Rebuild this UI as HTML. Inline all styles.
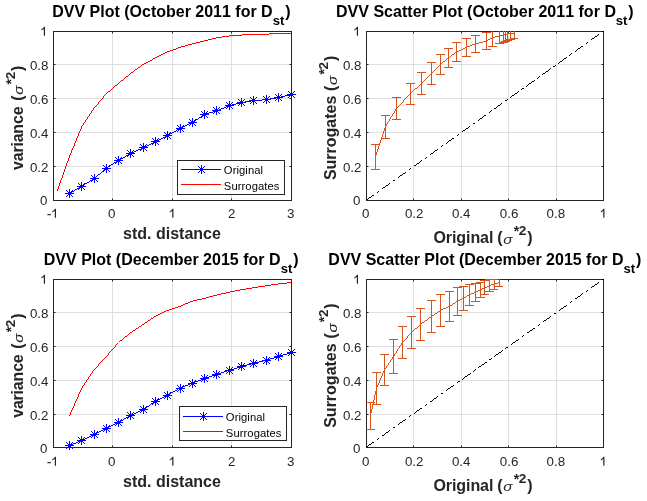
<!DOCTYPE html>
<html><head><meta charset="utf-8"><title>DVV</title>
<style>html,body{margin:0;padding:0;background:#fff}svg{display:block;will-change:transform}text{font-family:"Liberation Sans",sans-serif;fill:#262626;font-kerning:none}.tk{font-size:13.33px}.lb{font-size:16px;font-weight:bold}.lg{font-size:11.25px;fill:#000}.tt{fill:#000}</style></head><body>
<svg width="647" height="501" viewBox="0 0 647 501">
<rect width="647" height="501" fill="#ffffff"/>
<g shape-rendering="crispEdges" stroke="#dfdfdf" stroke-width="1">
<line x1="112.5" y1="31.5" x2="112.5" y2="200.5"/>
<line x1="172.5" y1="31.5" x2="172.5" y2="200.5"/>
<line x1="231.5" y1="31.5" x2="231.5" y2="200.5"/>
<line x1="53.5" y1="64.5" x2="291.5" y2="64.5"/>
<line x1="53.5" y1="98.5" x2="291.5" y2="98.5"/>
<line x1="53.5" y1="132.5" x2="291.5" y2="132.5"/>
<line x1="53.5" y1="166.5" x2="291.5" y2="166.5"/>
</g>
<g shape-rendering="crispEdges" stroke="#dfdfdf" stroke-width="1">
<line x1="413.5" y1="31.5" x2="413.5" y2="200.5"/>
<line x1="461.5" y1="31.5" x2="461.5" y2="200.5"/>
<line x1="508.5" y1="31.5" x2="508.5" y2="200.5"/>
<line x1="556.5" y1="31.5" x2="556.5" y2="200.5"/>
<line x1="366.5" y1="64.5" x2="603.5" y2="64.5"/>
<line x1="366.5" y1="98.5" x2="603.5" y2="98.5"/>
<line x1="366.5" y1="132.5" x2="603.5" y2="132.5"/>
<line x1="366.5" y1="166.5" x2="603.5" y2="166.5"/>
</g>
<g shape-rendering="crispEdges" stroke="#dfdfdf" stroke-width="1">
<line x1="112.5" y1="279.5" x2="112.5" y2="447.5"/>
<line x1="172.5" y1="279.5" x2="172.5" y2="447.5"/>
<line x1="231.5" y1="279.5" x2="231.5" y2="447.5"/>
<line x1="53.5" y1="312.5" x2="291.5" y2="312.5"/>
<line x1="53.5" y1="346.5" x2="291.5" y2="346.5"/>
<line x1="53.5" y1="380.5" x2="291.5" y2="380.5"/>
<line x1="53.5" y1="414.5" x2="291.5" y2="414.5"/>
</g>
<g shape-rendering="crispEdges" stroke="#dfdfdf" stroke-width="1">
<line x1="413.5" y1="279.5" x2="413.5" y2="447.5"/>
<line x1="461.5" y1="279.5" x2="461.5" y2="447.5"/>
<line x1="508.5" y1="279.5" x2="508.5" y2="447.5"/>
<line x1="556.5" y1="279.5" x2="556.5" y2="447.5"/>
<line x1="366.5" y1="312.5" x2="603.5" y2="312.5"/>
<line x1="366.5" y1="346.5" x2="603.5" y2="346.5"/>
<line x1="366.5" y1="380.5" x2="603.5" y2="380.5"/>
<line x1="366.5" y1="414.5" x2="603.5" y2="414.5"/>
</g>
<g stroke="#262626" stroke-width="1" fill="none">
<line x1="112.5" y1="200.5" x2="112.5" y2="198.5"/>
<line x1="112.5" y1="31.5" x2="112.5" y2="33.5"/>
<line x1="172.5" y1="200.5" x2="172.5" y2="198.5"/>
<line x1="172.5" y1="31.5" x2="172.5" y2="33.5"/>
<line x1="231.5" y1="200.5" x2="231.5" y2="198.5"/>
<line x1="231.5" y1="31.5" x2="231.5" y2="33.5"/>
<line x1="53.5" y1="64.5" x2="55.5" y2="64.5"/>
<line x1="291.5" y1="64.5" x2="289.5" y2="64.5"/>
<line x1="53.5" y1="98.5" x2="55.5" y2="98.5"/>
<line x1="291.5" y1="98.5" x2="289.5" y2="98.5"/>
<line x1="53.5" y1="132.5" x2="55.5" y2="132.5"/>
<line x1="291.5" y1="132.5" x2="289.5" y2="132.5"/>
<line x1="53.5" y1="166.5" x2="55.5" y2="166.5"/>
<line x1="291.5" y1="166.5" x2="289.5" y2="166.5"/>
<rect x="53.5" y="31.5" width="238.0" height="169.0" shape-rendering="crispEdges"/>
</g>
<g stroke="#262626" stroke-width="1" fill="none">
<line x1="413.5" y1="200.5" x2="413.5" y2="198.5"/>
<line x1="413.5" y1="31.5" x2="413.5" y2="33.5"/>
<line x1="461.5" y1="200.5" x2="461.5" y2="198.5"/>
<line x1="461.5" y1="31.5" x2="461.5" y2="33.5"/>
<line x1="508.5" y1="200.5" x2="508.5" y2="198.5"/>
<line x1="508.5" y1="31.5" x2="508.5" y2="33.5"/>
<line x1="556.5" y1="200.5" x2="556.5" y2="198.5"/>
<line x1="556.5" y1="31.5" x2="556.5" y2="33.5"/>
<line x1="366.5" y1="64.5" x2="368.5" y2="64.5"/>
<line x1="603.5" y1="64.5" x2="601.5" y2="64.5"/>
<line x1="366.5" y1="98.5" x2="368.5" y2="98.5"/>
<line x1="603.5" y1="98.5" x2="601.5" y2="98.5"/>
<line x1="366.5" y1="132.5" x2="368.5" y2="132.5"/>
<line x1="603.5" y1="132.5" x2="601.5" y2="132.5"/>
<line x1="366.5" y1="166.5" x2="368.5" y2="166.5"/>
<line x1="603.5" y1="166.5" x2="601.5" y2="166.5"/>
<rect x="366.5" y="31.5" width="237.0" height="169.0" shape-rendering="crispEdges"/>
</g>
<g stroke="#262626" stroke-width="1" fill="none">
<line x1="112.5" y1="447.5" x2="112.5" y2="445.5"/>
<line x1="112.5" y1="279.5" x2="112.5" y2="281.5"/>
<line x1="172.5" y1="447.5" x2="172.5" y2="445.5"/>
<line x1="172.5" y1="279.5" x2="172.5" y2="281.5"/>
<line x1="231.5" y1="447.5" x2="231.5" y2="445.5"/>
<line x1="231.5" y1="279.5" x2="231.5" y2="281.5"/>
<line x1="53.5" y1="312.5" x2="55.5" y2="312.5"/>
<line x1="291.5" y1="312.5" x2="289.5" y2="312.5"/>
<line x1="53.5" y1="346.5" x2="55.5" y2="346.5"/>
<line x1="291.5" y1="346.5" x2="289.5" y2="346.5"/>
<line x1="53.5" y1="380.5" x2="55.5" y2="380.5"/>
<line x1="291.5" y1="380.5" x2="289.5" y2="380.5"/>
<line x1="53.5" y1="414.5" x2="55.5" y2="414.5"/>
<line x1="291.5" y1="414.5" x2="289.5" y2="414.5"/>
<rect x="53.5" y="279.5" width="238.0" height="168.0" shape-rendering="crispEdges"/>
</g>
<g stroke="#262626" stroke-width="1" fill="none">
<line x1="413.5" y1="447.5" x2="413.5" y2="445.5"/>
<line x1="413.5" y1="279.5" x2="413.5" y2="281.5"/>
<line x1="461.5" y1="447.5" x2="461.5" y2="445.5"/>
<line x1="461.5" y1="279.5" x2="461.5" y2="281.5"/>
<line x1="508.5" y1="447.5" x2="508.5" y2="445.5"/>
<line x1="508.5" y1="279.5" x2="508.5" y2="281.5"/>
<line x1="556.5" y1="447.5" x2="556.5" y2="445.5"/>
<line x1="556.5" y1="279.5" x2="556.5" y2="281.5"/>
<line x1="366.5" y1="312.5" x2="368.5" y2="312.5"/>
<line x1="603.5" y1="312.5" x2="601.5" y2="312.5"/>
<line x1="366.5" y1="346.5" x2="368.5" y2="346.5"/>
<line x1="603.5" y1="346.5" x2="601.5" y2="346.5"/>
<line x1="366.5" y1="380.5" x2="368.5" y2="380.5"/>
<line x1="603.5" y1="380.5" x2="601.5" y2="380.5"/>
<line x1="366.5" y1="414.5" x2="368.5" y2="414.5"/>
<line x1="603.5" y1="414.5" x2="601.5" y2="414.5"/>
<rect x="366.5" y="279.5" width="237.0" height="168.0" shape-rendering="crispEdges"/>
</g>
<path d="M269 33h22v1h-22zM242 34h27v1h-27zM229 35h13v1h-13zM222 36h7v1h-7zM216 37h6v1h-6zM212 38h4v1h-4zM208 39h4v1h-4zM204 40h4v1h-4zM200 41h4v1h-4zM196 42h4v1h-4zM192 43h4v1h-4zM188 44h4v1h-4zM185 45h3v1h-3zM181 46h4v1h-4zM178 47h3v1h-3zM176 48h2v1h-2zM173 49h3v1h-3zM170 50h3v1h-3zM167 51h3v1h-3zM165 52h2v1h-2zM163 53h2v1h-2zM161 54h2v1h-2zM159 55h2v1h-2zM157 56h2v1h-2zM155 57h2v1h-2zM153 58h2v1h-2zM152 59h1v1h-1zM150 60h2v1h-2zM148 61h2v1h-2zM146 62h2v1h-2zM144 63h2v1h-2zM142 64h2v1h-2zM141 65h1v1h-1zM140 66h1v1h-1zM138 67h2v1h-2zM137 68h1v1h-1zM135 69h2v1h-2zM134 70h1v1h-1zM133 71h1v1h-1zM131 72h2v1h-2zM130 73h1v1h-1zM129 74h1v1h-1zM128 75h1v1h-1zM126 76h2v1h-2zM125 77h1v1h-1zM124 78h1v1h-1zM123 79h1v1h-1zM121 80h2v1h-2zM120 81h1v1h-1zM119 82h1v1h-1zM118 83h1v1h-1zM117 84h1v1h-1zM115 85h2v1h-2zM114 86h1v1h-1zM113 87h1v1h-1zM112 88h1v1h-1zM111 89h1v1h-1zM110 90h1v1h-1zM108 91h2v1h-2zM107 92h1v1h-1zM106 93h1v1h-1zM105 94h1v1h-1zM104 95h1v1h-1zM103 96h1v1h-1zM103 97h1v1h-1zM102 98h1v1h-1zM101 99h1v1h-1zM100 100h1v1h-1zM99 101h1v1h-1zM98 102h1v1h-1zM98 103h1v1h-1zM97 104h1v1h-1zM96 105h1v1h-1zM95 106h1v1h-1zM94 107h1v1h-1zM93 108h1v1h-1zM93 109h1v1h-1zM92 110h1v1h-1zM91 111h1v1h-1zM91 112h1v1h-1zM90 113h1v1h-1zM89 114h1v1h-1zM89 115h1v1h-1zM88 116h1v1h-1zM87 117h1v1h-1zM87 118h1v1h-1zM86 119h1v1h-1zM85 120h1v1h-1zM85 121h1v1h-1zM84 122h1v1h-1zM83 123h1v1h-1zM83 124h1v1h-1zM82 125h1v1h-1zM81 126h1v1h-1zM81 127h1v1h-1zM81 128h1v1h-1zM80 129h1v1h-1zM80 130h1v1h-1zM79 131h1v1h-1zM79 132h1v1h-1zM78 133h1v1h-1zM78 134h1v1h-1zM78 135h1v1h-1zM77 136h1v1h-1zM77 137h1v1h-1zM76 138h1v1h-1zM76 139h1v1h-1zM76 140h1v1h-1zM75 141h1v1h-1zM75 142h1v1h-1zM74 143h1v1h-1zM74 144h1v1h-1zM74 145h1v1h-1zM73 146h1v1h-1zM73 147h1v1h-1zM72 148h1v1h-1zM72 149h1v1h-1zM71 150h1v1h-1zM71 151h1v1h-1zM71 152h1v1h-1zM70 153h1v1h-1zM70 154h1v1h-1zM69 155h1v1h-1zM69 156h1v1h-1zM69 157h1v1h-1zM68 158h1v1h-1zM68 159h1v1h-1zM68 160h1v1h-1zM67 161h1v1h-1zM67 162h1v1h-1zM66 163h1v1h-1zM66 164h1v1h-1zM66 165h1v1h-1zM65 166h1v1h-1zM65 167h1v1h-1zM65 168h1v1h-1zM64 169h1v1h-1zM64 170h1v1h-1zM64 171h1v1h-1zM63 172h1v1h-1zM63 173h1v1h-1zM63 174h1v1h-1zM62 175h1v1h-1zM62 176h1v1h-1zM62 177h1v1h-1zM61 178h1v1h-1zM61 179h1v1h-1zM60 180h1v1h-1zM60 181h1v1h-1zM60 182h1v1h-1zM59 183h1v1h-1zM59 184h1v1h-1zM59 185h1v1h-1zM58 186h1v1h-1zM58 187h1v1h-1zM58 188h1v1h-1zM57 189h1v1h-1zM57 190h1v1h-1z" fill="#ff0000" shape-rendering="crispEdges"/>
<path d="M290 94h1v1h-1zM285 95h5v1h-5zM281 96h4v1h-4zM276 97h5v1h-5zM270 98h6v1h-6zM262 99h8v1h-8zM251 100h11v1h-11zM245 101h6v1h-6zM240 102h5v1h-5zM236 103h4v1h-4zM232 104h4v1h-4zM228 105h4v1h-4zM226 106h2v1h-2zM224 107h2v1h-2zM221 108h3v1h-3zM219 109h2v1h-2zM216 110h3v1h-3zM213 111h3v1h-3zM209 112h4v1h-4zM206 113h3v1h-3zM204 114h2v1h-2zM202 115h2v1h-2zM201 116h1v1h-1zM199 117h2v1h-2zM198 118h1v1h-1zM196 119h2v1h-2zM195 120h1v1h-1zM193 121h2v1h-2zM192 122h1v1h-1zM189 123h3v1h-3zM187 124h2v1h-2zM185 125h2v1h-2zM183 126h2v1h-2zM181 127h2v1h-2zM179 128h2v1h-2zM177 129h2v1h-2zM176 130h1v1h-1zM174 131h2v1h-2zM172 132h2v1h-2zM170 133h2v1h-2zM169 134h1v1h-1zM167 135h2v1h-2zM165 136h2v1h-2zM163 137h2v1h-2zM161 138h2v1h-2zM159 139h2v1h-2zM157 140h2v1h-2zM155 141h2v1h-2zM153 142h2v1h-2zM151 143h2v1h-2zM149 144h2v1h-2zM147 145h2v1h-2zM145 146h2v1h-2zM143 147h2v1h-2zM141 148h2v1h-2zM138 149h3v1h-3zM136 150h2v1h-2zM134 151h2v1h-2zM132 152h2v1h-2zM130 153h2v1h-2zM128 154h2v1h-2zM126 155h2v1h-2zM125 156h1v1h-1zM123 157h2v1h-2zM121 158h2v1h-2zM119 159h2v1h-2zM117 160h2v1h-2zM116 161h1v1h-1zM114 162h2v1h-2zM113 163h1v1h-1zM111 164h2v1h-2zM110 165h1v1h-1zM108 166h2v1h-2zM107 167h1v1h-1zM106 168h1v1h-1zM104 169h2v1h-2zM103 170h1v1h-1zM102 171h1v1h-1zM101 172h1v1h-1zM100 173h1v1h-1zM98 174h2v1h-2zM97 175h1v1h-1zM96 176h1v1h-1zM95 177h1v1h-1zM94 178h1v1h-1zM92 179h2v1h-2zM90 180h2v1h-2zM89 181h1v1h-1zM87 182h2v1h-2zM85 183h2v1h-2zM84 184h1v1h-1zM82 185h2v1h-2zM80 186h2v1h-2zM79 187h1v1h-1zM77 188h2v1h-2zM75 189h2v1h-2zM74 190h1v1h-1zM72 191h2v1h-2zM70 192h2v1h-2zM69 193h1v1h-1z" fill="#0000ff" shape-rendering="crispEdges"/>
<path d="M287 282h4v1h-4zM278 283h9v1h-9zM271 284h7v1h-7zM265 285h6v1h-6zM258 286h7v1h-7zM252 287h6v1h-6zM246 288h6v1h-6zM240 289h6v1h-6zM235 290h5v1h-5zM230 291h5v1h-5zM226 292h4v1h-4zM221 293h5v1h-5zM217 294h4v1h-4zM213 295h4v1h-4zM209 296h4v1h-4zM206 297h3v1h-3zM202 298h4v1h-4zM197 299h5v1h-5zM193 300h4v1h-4zM190 301h3v1h-3zM188 302h2v1h-2zM185 303h3v1h-3zM183 304h2v1h-2zM181 305h2v1h-2zM178 306h3v1h-3zM175 307h3v1h-3zM172 308h3v1h-3zM169 309h3v1h-3zM166 310h3v1h-3zM164 311h2v1h-2zM162 312h2v1h-2zM160 313h2v1h-2zM158 314h2v1h-2zM156 315h2v1h-2zM154 316h2v1h-2zM153 317h1v1h-1zM151 318h2v1h-2zM150 319h1v1h-1zM148 320h2v1h-2zM147 321h1v1h-1zM145 322h2v1h-2zM144 323h1v1h-1zM142 324h2v1h-2zM141 325h1v1h-1zM139 326h2v1h-2zM138 327h1v1h-1zM136 328h2v1h-2zM135 329h1v1h-1zM133 330h2v1h-2zM132 331h1v1h-1zM130 332h2v1h-2zM129 333h1v1h-1zM128 334h1v1h-1zM127 335h1v1h-1zM125 336h2v1h-2zM124 337h1v1h-1zM123 338h1v1h-1zM122 339h1v1h-1zM120 340h2v1h-2zM119 341h1v1h-1zM117 343h1v1h-1zM116 344h1v1h-1zM115 345h1v1h-1zM115 346h1v1h-1zM114 347h1v1h-1zM113 348h1v1h-1zM112 349h1v1h-1zM111 350h1v1h-1zM110 351h1v1h-1zM109 352h1v1h-1zM108 353h1v1h-1zM108 354h1v1h-1zM107 355h1v1h-1zM106 356h1v1h-1zM105 357h1v1h-1zM104 358h1v1h-1zM103 359h1v1h-1zM102 360h1v1h-1zM101 361h1v1h-1zM100 362h1v1h-1zM99 363h1v1h-1zM98 364h1v1h-1zM98 365h1v1h-1zM97 366h1v1h-1zM96 367h1v1h-1zM95 368h1v1h-1zM94 369h1v1h-1zM93 370h1v1h-1zM92 371h1v1h-1zM92 372h1v1h-1zM91 373h1v1h-1zM90 374h1v1h-1zM90 375h1v1h-1zM89 376h1v1h-1zM88 377h1v1h-1zM88 378h1v1h-1zM87 379h1v1h-1zM86 380h1v1h-1zM86 381h1v1h-1zM85 382h1v1h-1zM84 383h1v1h-1zM84 384h1v1h-1zM83 385h1v1h-1zM82 386h1v1h-1zM82 387h1v1h-1zM81 388h1v1h-1zM81 389h1v1h-1zM80 390h1v1h-1zM80 391h1v1h-1zM79 392h1v1h-1zM79 393h1v1h-1zM78 394h1v1h-1zM78 395h1v1h-1zM78 396h1v1h-1zM77 397h1v1h-1zM77 398h1v1h-1zM76 399h1v1h-1zM76 400h1v1h-1zM75 401h1v1h-1zM75 402h1v1h-1zM74 403h1v1h-1zM74 404h1v1h-1zM74 405h1v1h-1zM73 406h1v1h-1zM73 407h1v1h-1zM72 408h1v1h-1zM72 409h1v1h-1zM71 410h1v1h-1zM71 411h1v1h-1zM70 412h1v1h-1zM70 413h1v1h-1zM70 414h1v1h-1zM69 415h1v1h-1z" fill="#ff0000" shape-rendering="crispEdges"/>
<path d="M290 352h1v1h-1zM287 353h3v1h-3zM283 354h4v1h-4zM280 355h3v1h-3zM277 356h3v1h-3zM274 357h3v1h-3zM270 358h4v1h-4zM267 359h3v1h-3zM263 360h4v1h-4zM259 361h4v1h-4zM255 362h4v1h-4zM251 363h4v1h-4zM247 364h4v1h-4zM243 365h4v1h-4zM240 366h3v1h-3zM237 367h3v1h-3zM234 368h3v1h-3zM230 369h4v1h-4zM227 370h3v1h-3zM224 371h3v1h-3zM221 372h3v1h-3zM218 373h3v1h-3zM215 374h3v1h-3zM212 375h3v1h-3zM209 376h3v1h-3zM206 377h3v1h-3zM203 378h3v1h-3zM201 379h2v1h-2zM198 380h3v1h-3zM195 381h3v1h-3zM193 382h2v1h-2zM190 383h3v1h-3zM188 384h2v1h-2zM185 385h3v1h-3zM183 386h2v1h-2zM180 387h3v1h-3zM178 388h2v1h-2zM177 389h1v1h-1zM175 390h2v1h-2zM173 391h2v1h-2zM171 392h2v1h-2zM170 393h1v1h-1zM168 394h2v1h-2zM166 395h2v1h-2zM164 396h2v1h-2zM162 397h2v1h-2zM160 398h2v1h-2zM158 399h2v1h-2zM156 400h2v1h-2zM154 401h2v1h-2zM153 402h1v1h-1zM151 403h2v1h-2zM150 404h1v1h-1zM149 405h1v1h-1zM147 406h2v1h-2zM146 407h1v1h-1zM144 408h2v1h-2zM143 409h1v1h-1zM140 410h3v1h-3zM138 411h2v1h-2zM136 412h2v1h-2zM134 413h2v1h-2zM132 414h2v1h-2zM130 415h2v1h-2zM128 416h2v1h-2zM126 417h2v1h-2zM124 418h2v1h-2zM123 419h1v1h-1zM121 420h2v1h-2zM119 421h2v1h-2zM117 422h2v1h-2zM115 423h2v1h-2zM113 424h2v1h-2zM111 425h2v1h-2zM109 426h2v1h-2zM107 427h2v1h-2zM105 428h2v1h-2zM103 429h2v1h-2zM101 430h2v1h-2zM99 431h2v1h-2zM97 432h2v1h-2zM95 433h2v1h-2zM93 434h2v1h-2zM91 435h2v1h-2zM89 436h2v1h-2zM87 437h2v1h-2zM85 438h2v1h-2zM83 439h2v1h-2zM81 440h2v1h-2zM78 441h3v1h-3zM76 442h2v1h-2zM73 443h3v1h-3zM70 444h3v1h-3zM69 445h1v1h-1z" fill="#0000ff" shape-rendering="crispEdges"/>
<path d="M602 31h2v1h-2zM598 34h1v1h-1zM597 35h1v1h-1zM595 36h2v1h-2zM594 37h1v1h-1zM592 38h2v1h-2zM591 39h1v1h-1zM587 42h1v1h-1zM586 43h1v1h-1zM581 46h2v1h-2zM580 47h1v1h-1zM578 48h2v1h-2zM577 49h1v1h-1zM576 50h1v1h-1zM575 51h1v1h-1zM571 53h1v1h-1zM570 54h1v1h-1zM569 55h1v1h-1zM566 57h1v1h-1zM564 58h2v1h-2zM563 59h1v1h-1zM562 60h1v1h-1zM560 61h2v1h-2zM559 62h1v1h-1zM558 63h1v1h-1zM555 65h1v1h-1zM553 66h2v1h-2zM550 68h1v1h-1zM549 69h1v1h-1zM548 70h1v1h-1zM546 71h2v1h-2zM545 72h1v1h-1zM543 73h2v1h-2zM542 74h1v1h-1zM539 76h1v1h-1zM538 77h1v1h-1zM537 78h1v1h-1zM534 80h1v1h-1zM532 81h2v1h-2zM531 82h1v1h-1zM529 83h2v1h-2zM528 84h1v1h-1zM527 85h1v1h-1zM526 86h1v1h-1zM522 88h2v1h-2zM521 89h1v1h-1zM518 91h1v1h-1zM517 92h1v1h-1zM515 93h2v1h-2zM514 94h1v1h-1zM512 95h2v1h-2zM511 96h1v1h-1zM510 97h1v1h-1zM507 99h1v1h-1zM505 100h2v1h-2zM501 103h1v1h-1zM500 104h1v1h-1zM498 105h2v1h-2zM497 106h1v1h-1zM496 107h1v1h-1zM494 108h2v1h-2zM491 110h1v1h-1zM490 111h1v1h-1zM489 112h1v1h-1zM484 115h2v1h-2zM483 116h1v1h-1zM482 117h1v1h-1zM480 118h2v1h-2zM479 119h1v1h-1zM478 120h1v1h-1zM473 123h2v1h-2zM469 126h1v1h-1zM468 127h1v1h-1zM466 128h2v1h-2zM465 129h1v1h-1zM463 130h2v1h-2zM462 131h1v1h-1zM458 134h1v1h-1zM457 135h1v1h-1zM452 138h2v1h-2zM451 139h1v1h-1zM449 140h2v1h-2zM448 141h1v1h-1zM447 142h1v1h-1zM446 143h1v1h-1zM442 145h1v1h-1zM441 146h1v1h-1zM437 149h1v1h-1zM435 150h2v1h-2zM434 151h1v1h-1zM433 152h1v1h-1zM431 153h2v1h-2zM430 154h1v1h-1zM426 157h1v1h-1zM425 158h1v1h-1zM421 160h1v1h-1zM420 161h1v1h-1zM419 162h1v1h-1zM417 163h2v1h-2zM416 164h1v1h-1zM414 165h2v1h-2zM410 168h1v1h-1zM409 169h1v1h-1zM405 172h1v1h-1zM403 173h2v1h-2zM402 174h1v1h-1zM400 175h2v1h-2zM399 176h1v1h-1zM398 177h1v1h-1zM393 180h2v1h-2zM389 183h1v1h-1zM388 184h1v1h-1zM386 185h2v1h-2zM385 186h1v1h-1zM383 187h2v1h-2zM382 188h1v1h-1zM378 191h1v1h-1zM377 192h1v1h-1zM372 195h2v1h-2zM371 196h1v1h-1zM369 197h2v1h-2zM368 198h1v1h-1zM367 199h1v1h-1z" fill="#000" shape-rendering="crispEdges"/>
<path d="M492 31h1v1h-1zM499 31h1v1h-1zM503 31h1v1h-1zM505 31h1v1h-1zM507 31h1v1h-1zM510 31h1v1h-1zM514 31h1v1h-1zM482 32h9v1h-9zM492 32h1v1h-1zM499 32h1v1h-1zM503 32h1v1h-1zM505 32h1v1h-1zM507 32h1v1h-1zM510 32h1v1h-1zM514 32h1v1h-1zM486 33h1v1h-1zM492 33h1v1h-1zM499 33h1v1h-1zM503 33h1v1h-1zM505 33h1v1h-1zM507 33h8v1h-8zM486 34h1v1h-1zM492 34h1v1h-1zM499 34h1v1h-1zM503 34h5v1h-5zM510 34h1v1h-1zM514 34h1v1h-1zM471 35h9v1h-9zM486 35h1v1h-1zM492 35h1v1h-1zM499 35h5v1h-5zM505 35h1v1h-1zM507 35h1v1h-1zM510 35h1v1h-1zM514 35h1v1h-1zM475 36h1v1h-1zM486 36h1v1h-1zM492 36h1v1h-1zM495 36h5v1h-5zM503 36h1v1h-1zM505 36h1v1h-1zM507 36h1v1h-1zM510 36h1v1h-1zM514 36h1v1h-1zM475 37h1v1h-1zM486 37h1v1h-1zM492 37h3v1h-3zM499 37h1v1h-1zM503 37h1v1h-1zM505 37h1v1h-1zM507 37h1v1h-1zM510 37h1v1h-1zM514 37h1v1h-1zM462 38h9v1h-9zM475 38h1v1h-1zM486 38h1v1h-1zM490 38h3v1h-3zM499 38h1v1h-1zM503 38h1v1h-1zM505 38h1v1h-1zM507 38h1v1h-1zM510 38h8v1h-8zM466 39h1v1h-1zM475 39h1v1h-1zM486 39h1v1h-1zM488 39h2v1h-2zM492 39h1v1h-1zM499 39h1v1h-1zM503 39h1v1h-1zM505 39h10v1h-10zM466 40h1v1h-1zM475 40h1v1h-1zM486 40h2v1h-2zM492 40h1v1h-1zM499 40h1v1h-1zM503 40h9v1h-9zM466 41h1v1h-1zM475 41h1v1h-1zM483 41h4v1h-4zM492 41h1v1h-1zM499 41h1v1h-1zM501 41h9v1h-9zM452 42h9v1h-9zM466 42h1v1h-1zM475 42h1v1h-1zM479 42h4v1h-4zM486 42h1v1h-1zM492 42h1v1h-1zM499 42h9v1h-9zM456 43h1v1h-1zM466 43h1v1h-1zM475 43h4v1h-4zM486 43h1v1h-1zM492 43h1v1h-1zM495 43h9v1h-9zM456 44h1v1h-1zM466 44h1v1h-1zM472 44h4v1h-4zM486 44h1v1h-1zM492 44h1v1h-1zM456 45h1v1h-1zM466 45h1v1h-1zM470 45h2v1h-2zM475 45h1v1h-1zM486 45h1v1h-1zM492 45h1v1h-1zM456 46h1v1h-1zM466 46h4v1h-4zM475 46h1v1h-1zM486 46h1v1h-1zM488 46h9v1h-9zM456 47h1v1h-1zM465 47h2v1h-2zM475 47h1v1h-1zM486 47h1v1h-1zM444 48h9v1h-9zM456 48h1v1h-1zM463 48h2v1h-2zM466 48h1v1h-1zM475 48h1v1h-1zM486 48h1v1h-1zM448 49h1v1h-1zM456 49h1v1h-1zM461 49h2v1h-2zM466 49h1v1h-1zM475 49h1v1h-1zM482 49h9v1h-9zM448 50h1v1h-1zM456 50h1v1h-1zM459 50h2v1h-2zM466 50h1v1h-1zM475 50h1v1h-1zM448 51h1v1h-1zM456 51h3v1h-3zM466 51h1v1h-1zM475 51h1v1h-1zM448 52h1v1h-1zM455 52h2v1h-2zM466 52h1v1h-1zM471 52h9v1h-9zM448 53h1v1h-1zM454 53h1v1h-1zM456 53h1v1h-1zM466 53h1v1h-1zM436 54h9v1h-9zM448 54h1v1h-1zM452 54h2v1h-2zM456 54h1v1h-1zM466 54h1v1h-1zM440 55h1v1h-1zM448 55h1v1h-1zM451 55h1v1h-1zM456 55h1v1h-1zM466 55h1v1h-1zM440 56h1v1h-1zM448 56h1v1h-1zM450 56h1v1h-1zM456 56h1v1h-1zM462 56h9v1h-9zM440 57h1v1h-1zM448 57h2v1h-2zM456 57h1v1h-1zM440 58h1v1h-1zM447 58h2v1h-2zM456 58h1v1h-1zM440 59h1v1h-1zM446 59h1v1h-1zM448 59h1v1h-1zM456 59h1v1h-1zM440 60h1v1h-1zM445 60h1v1h-1zM448 60h1v1h-1zM456 60h1v1h-1zM440 61h1v1h-1zM443 61h2v1h-2zM448 61h1v1h-1zM452 61h9v1h-9zM427 62h9v1h-9zM440 62h1v1h-1zM442 62h1v1h-1zM448 62h1v1h-1zM431 63h1v1h-1zM440 63h2v1h-2zM448 63h1v1h-1zM431 64h1v1h-1zM440 64h1v1h-1zM448 64h1v1h-1zM431 65h1v1h-1zM439 65h2v1h-2zM448 65h1v1h-1zM431 66h1v1h-1zM438 66h1v1h-1zM440 66h1v1h-1zM448 66h1v1h-1zM431 67h1v1h-1zM437 67h1v1h-1zM440 67h1v1h-1zM444 67h9v1h-9zM431 68h1v1h-1zM436 68h1v1h-1zM440 68h1v1h-1zM431 69h1v1h-1zM435 69h1v1h-1zM440 69h1v1h-1zM431 70h1v1h-1zM434 70h1v1h-1zM440 70h1v1h-1zM431 71h1v1h-1zM433 71h1v1h-1zM440 71h1v1h-1zM417 72h9v1h-9zM431 72h2v1h-2zM440 72h1v1h-1zM421 73h1v1h-1zM431 73h1v1h-1zM440 73h1v1h-1zM421 74h1v1h-1zM430 74h2v1h-2zM436 74h9v1h-9zM421 75h1v1h-1zM429 75h1v1h-1zM431 75h1v1h-1zM421 76h1v1h-1zM428 76h1v1h-1zM431 76h1v1h-1zM421 77h1v1h-1zM427 77h1v1h-1zM431 77h1v1h-1zM421 78h1v1h-1zM426 78h1v1h-1zM431 78h1v1h-1zM421 79h1v1h-1zM425 79h1v1h-1zM431 79h1v1h-1zM421 80h1v1h-1zM424 80h1v1h-1zM431 80h1v1h-1zM421 81h1v1h-1zM423 81h1v1h-1zM431 81h1v1h-1zM421 82h2v1h-2zM431 82h1v1h-1zM406 83h9v1h-9zM421 83h1v1h-1zM431 83h1v1h-1zM410 84h1v1h-1zM420 84h2v1h-2zM427 84h9v1h-9zM410 85h1v1h-1zM419 85h1v1h-1zM421 85h1v1h-1zM410 86h1v1h-1zM418 86h1v1h-1zM421 86h1v1h-1zM410 87h1v1h-1zM417 87h1v1h-1zM421 87h1v1h-1zM410 88h1v1h-1zM415 88h2v1h-2zM421 88h1v1h-1zM410 89h1v1h-1zM414 89h1v1h-1zM421 89h1v1h-1zM410 90h1v1h-1zM413 90h1v1h-1zM421 90h1v1h-1zM410 91h1v1h-1zM412 91h1v1h-1zM421 91h1v1h-1zM410 92h2v1h-2zM421 92h1v1h-1zM410 93h1v1h-1zM421 93h1v1h-1zM409 94h2v1h-2zM417 94h9v1h-9zM408 95h1v1h-1zM410 95h1v1h-1zM407 96h1v1h-1zM410 96h1v1h-1zM392 97h9v1h-9zM406 97h1v1h-1zM410 97h1v1h-1zM396 98h1v1h-1zM405 98h1v1h-1zM410 98h1v1h-1zM396 99h1v1h-1zM404 99h1v1h-1zM410 99h1v1h-1zM396 100h1v1h-1zM403 100h1v1h-1zM410 100h1v1h-1zM396 101h1v1h-1zM403 101h1v1h-1zM410 101h1v1h-1zM396 102h1v1h-1zM402 102h1v1h-1zM410 102h1v1h-1zM396 103h1v1h-1zM401 103h1v1h-1zM410 103h1v1h-1zM396 104h1v1h-1zM400 104h1v1h-1zM406 104h9v1h-9zM396 105h1v1h-1zM399 105h1v1h-1zM396 106h1v1h-1zM398 106h1v1h-1zM396 107h2v1h-2zM396 108h1v1h-1zM395 109h2v1h-2zM395 110h2v1h-2zM394 111h1v1h-1zM396 111h1v1h-1zM394 112h1v1h-1zM396 112h1v1h-1zM393 113h1v1h-1zM396 113h1v1h-1zM392 114h1v1h-1zM396 114h1v1h-1zM381 115h9v1h-9zM392 115h1v1h-1zM396 115h1v1h-1zM385 116h1v1h-1zM391 116h1v1h-1zM396 116h1v1h-1zM385 117h1v1h-1zM390 117h1v1h-1zM396 117h1v1h-1zM385 118h1v1h-1zM390 118h1v1h-1zM396 118h1v1h-1zM385 119h1v1h-1zM389 119h1v1h-1zM392 119h9v1h-9zM385 120h1v1h-1zM389 120h1v1h-1zM385 121h1v1h-1zM388 121h1v1h-1zM385 122h1v1h-1zM387 122h1v1h-1zM385 123h1v1h-1zM387 123h1v1h-1zM385 124h2v1h-2zM385 125h2v1h-2zM385 126h1v1h-1zM385 127h1v1h-1zM384 128h2v1h-2zM384 129h2v1h-2zM384 130h2v1h-2zM383 131h1v1h-1zM385 131h1v1h-1zM383 132h1v1h-1zM385 132h1v1h-1zM383 133h1v1h-1zM385 133h1v1h-1zM382 134h1v1h-1zM385 134h1v1h-1zM382 135h1v1h-1zM385 135h1v1h-1zM382 136h1v1h-1zM385 136h1v1h-1zM381 137h1v1h-1zM385 137h1v1h-1zM381 138h9v1h-9zM381 139h1v1h-1zM380 140h1v1h-1zM380 141h1v1h-1zM380 142h1v1h-1zM379 143h1v1h-1zM371 144h9v1h-9zM375 145h1v1h-1zM379 145h1v1h-1zM375 146h1v1h-1zM378 146h1v1h-1zM375 147h1v1h-1zM378 147h1v1h-1zM375 148h1v1h-1zM378 148h1v1h-1zM375 149h1v1h-1zM377 149h1v1h-1zM375 150h1v1h-1zM377 150h1v1h-1zM375 151h1v1h-1zM377 151h1v1h-1zM375 152h2v1h-2zM375 153h2v1h-2zM375 154h2v1h-2zM375 155h1v1h-1zM375 156h1v1h-1zM375 157h1v1h-1zM375 158h1v1h-1zM375 159h1v1h-1zM375 160h1v1h-1zM375 161h1v1h-1zM375 162h1v1h-1zM375 163h1v1h-1zM375 164h1v1h-1zM375 165h1v1h-1zM375 166h1v1h-1zM375 167h1v1h-1zM375 168h1v1h-1zM371 169h9v1h-9z" fill="#d95319" shape-rendering="crispEdges"/>
<path d="M602 279h2v1h-2zM598 282h1v1h-1zM597 283h1v1h-1zM595 284h2v1h-2zM594 285h1v1h-1zM592 286h2v1h-2zM591 287h1v1h-1zM587 290h1v1h-1zM586 291h1v1h-1zM582 293h1v1h-1zM581 294h1v1h-1zM580 295h1v1h-1zM578 296h2v1h-2zM577 297h1v1h-1zM575 298h2v1h-2zM571 301h1v1h-1zM570 302h1v1h-1zM566 305h1v1h-1zM564 306h2v1h-2zM563 307h1v1h-1zM561 308h2v1h-2zM560 309h1v1h-1zM559 310h1v1h-1zM554 313h2v1h-2zM550 316h1v1h-1zM549 317h1v1h-1zM547 318h2v1h-2zM546 319h1v1h-1zM544 320h2v1h-2zM543 321h1v1h-1zM539 324h1v1h-1zM538 325h1v1h-1zM533 328h2v1h-2zM532 329h1v1h-1zM530 330h2v1h-2zM529 331h1v1h-1zM527 332h2v1h-2zM523 335h1v1h-1zM522 336h1v1h-1zM518 339h1v1h-1zM516 340h2v1h-2zM515 341h1v1h-1zM513 342h2v1h-2zM512 343h1v1h-1zM511 344h1v1h-1zM506 347h2v1h-2zM505 348h1v1h-1zM502 350h1v1h-1zM501 351h1v1h-1zM499 352h2v1h-2zM498 353h1v1h-1zM496 354h2v1h-2zM495 355h1v1h-1zM494 356h1v1h-1zM491 358h1v1h-1zM489 359h2v1h-2zM485 362h2v1h-2zM484 363h1v1h-1zM482 364h2v1h-2zM481 365h1v1h-1zM479 366h2v1h-2zM478 367h1v1h-1zM475 369h1v1h-1zM474 370h1v1h-1zM473 371h1v1h-1zM470 373h1v1h-1zM468 374h2v1h-2zM467 375h1v1h-1zM465 376h2v1h-2zM464 377h1v1h-1zM463 378h1v1h-1zM462 379h1v1h-1zM458 381h2v1h-2zM457 382h1v1h-1zM453 385h1v1h-1zM451 386h2v1h-2zM450 387h1v1h-1zM448 388h2v1h-2zM447 389h1v1h-1zM446 390h1v1h-1zM441 393h2v1h-2zM437 396h1v1h-1zM436 397h1v1h-1zM434 398h2v1h-2zM433 399h1v1h-1zM432 400h1v1h-1zM430 401h2v1h-2zM426 404h1v1h-1zM425 405h1v1h-1zM420 408h2v1h-2zM419 409h1v1h-1zM417 410h2v1h-2zM416 411h1v1h-1zM415 412h1v1h-1zM414 413h1v1h-1zM410 415h1v1h-1zM409 416h1v1h-1zM405 419h1v1h-1zM403 420h2v1h-2zM402 421h1v1h-1zM400 422h2v1h-2zM399 423h1v1h-1zM398 424h1v1h-1zM393 427h2v1h-2zM389 430h1v1h-1zM388 431h1v1h-1zM386 432h2v1h-2zM385 433h1v1h-1zM384 434h1v1h-1zM382 435h2v1h-2zM378 438h1v1h-1zM377 439h1v1h-1zM372 442h2v1h-2zM371 443h1v1h-1zM369 444h2v1h-2zM368 445h1v1h-1zM367 446h1v1h-1z" fill="#000" shape-rendering="crispEdges"/>
<path d="M485 279h13v1h-13zM499 279h1v1h-1zM480 280h10v1h-10zM494 280h1v1h-1zM499 280h1v1h-1zM484 281h1v1h-1zM489 281h1v1h-1zM494 281h1v1h-1zM499 281h1v1h-1zM476 282h9v1h-9zM489 282h1v1h-1zM494 282h1v1h-1zM498 282h2v1h-2zM471 283h10v1h-10zM484 283h1v1h-1zM489 283h1v1h-1zM494 283h4v1h-4zM499 283h1v1h-1zM465 284h9v1h-9zM475 284h1v1h-1zM480 284h1v1h-1zM484 284h1v1h-1zM489 284h1v1h-1zM491 284h4v1h-4zM499 284h1v1h-1zM469 285h1v1h-1zM475 285h1v1h-1zM480 285h1v1h-1zM484 285h1v1h-1zM489 285h2v1h-2zM494 285h1v1h-1zM499 285h1v1h-1zM459 286h9v1h-9zM469 286h1v1h-1zM475 286h1v1h-1zM480 286h1v1h-1zM484 286h1v1h-1zM487 286h3v1h-3zM494 286h9v1h-9zM453 287h9v1h-9zM463 287h1v1h-1zM469 287h1v1h-1zM475 287h1v1h-1zM480 287h1v1h-1zM484 287h3v1h-3zM489 287h1v1h-1zM494 287h1v1h-1zM457 288h1v1h-1zM463 288h1v1h-1zM469 288h1v1h-1zM475 288h1v1h-1zM480 288h1v1h-1zM482 288h3v1h-3zM489 288h1v1h-1zM494 288h1v1h-1zM457 289h1v1h-1zM463 289h1v1h-1zM469 289h1v1h-1zM475 289h1v1h-1zM480 289h2v1h-2zM484 289h1v1h-1zM489 289h9v1h-9zM457 290h1v1h-1zM463 290h1v1h-1zM469 290h1v1h-1zM475 290h1v1h-1zM478 290h3v1h-3zM484 290h1v1h-1zM489 290h1v1h-1zM445 291h9v1h-9zM457 291h1v1h-1zM463 291h1v1h-1zM469 291h1v1h-1zM475 291h3v1h-3zM480 291h1v1h-1zM484 291h10v1h-10zM449 292h1v1h-1zM457 292h1v1h-1zM463 292h1v1h-1zM469 292h1v1h-1zM474 292h2v1h-2zM480 292h1v1h-1zM484 292h1v1h-1zM449 293h1v1h-1zM457 293h1v1h-1zM463 293h1v1h-1zM469 293h1v1h-1zM471 293h3v1h-3zM475 293h1v1h-1zM480 293h1v1h-1zM484 293h1v1h-1zM436 294h9v1h-9zM449 294h1v1h-1zM457 294h1v1h-1zM463 294h1v1h-1zM469 294h2v1h-2zM475 294h1v1h-1zM480 294h9v1h-9zM440 295h1v1h-1zM449 295h1v1h-1zM457 295h1v1h-1zM463 295h1v1h-1zM467 295h3v1h-3zM475 295h1v1h-1zM480 295h1v1h-1zM440 296h1v1h-1zM449 296h1v1h-1zM457 296h1v1h-1zM463 296h1v1h-1zM466 296h1v1h-1zM469 296h1v1h-1zM475 296h1v1h-1zM480 296h1v1h-1zM440 297h1v1h-1zM449 297h1v1h-1zM457 297h1v1h-1zM463 297h3v1h-3zM469 297h1v1h-1zM475 297h10v1h-10zM440 298h1v1h-1zM449 298h1v1h-1zM457 298h1v1h-1zM462 298h2v1h-2zM469 298h1v1h-1zM475 298h1v1h-1zM440 299h1v1h-1zM449 299h1v1h-1zM457 299h1v1h-1zM460 299h2v1h-2zM463 299h1v1h-1zM469 299h1v1h-1zM475 299h1v1h-1zM427 300h9v1h-9zM440 300h1v1h-1zM449 300h1v1h-1zM457 300h3v1h-3zM463 300h1v1h-1zM469 300h1v1h-1zM475 300h1v1h-1zM431 301h1v1h-1zM440 301h1v1h-1zM449 301h1v1h-1zM456 301h2v1h-2zM463 301h1v1h-1zM469 301h1v1h-1zM471 301h9v1h-9zM431 302h1v1h-1zM440 302h1v1h-1zM449 302h1v1h-1zM455 302h1v1h-1zM457 302h1v1h-1zM463 302h1v1h-1zM469 302h1v1h-1zM431 303h1v1h-1zM440 303h1v1h-1zM449 303h1v1h-1zM453 303h2v1h-2zM457 303h1v1h-1zM463 303h1v1h-1zM469 303h1v1h-1zM431 304h1v1h-1zM440 304h1v1h-1zM449 304h1v1h-1zM452 304h1v1h-1zM457 304h1v1h-1zM463 304h1v1h-1zM469 304h1v1h-1zM431 305h1v1h-1zM440 305h1v1h-1zM449 305h3v1h-3zM457 305h1v1h-1zM463 305h1v1h-1zM465 305h9v1h-9zM431 306h1v1h-1zM440 306h1v1h-1zM448 306h2v1h-2zM457 306h1v1h-1zM463 306h1v1h-1zM431 307h1v1h-1zM440 307h1v1h-1zM446 307h2v1h-2zM449 307h1v1h-1zM457 307h1v1h-1zM463 307h1v1h-1zM416 308h9v1h-9zM431 308h1v1h-1zM440 308h1v1h-1zM443 308h3v1h-3zM449 308h1v1h-1zM457 308h1v1h-1zM463 308h1v1h-1zM420 309h1v1h-1zM431 309h1v1h-1zM440 309h3v1h-3zM449 309h1v1h-1zM457 309h1v1h-1zM463 309h1v1h-1zM420 310h1v1h-1zM431 310h1v1h-1zM440 310h1v1h-1zM449 310h1v1h-1zM457 310h1v1h-1zM459 310h9v1h-9zM420 311h1v1h-1zM431 311h1v1h-1zM438 311h3v1h-3zM449 311h1v1h-1zM457 311h1v1h-1zM420 312h1v1h-1zM431 312h1v1h-1zM437 312h1v1h-1zM440 312h1v1h-1zM449 312h1v1h-1zM457 312h1v1h-1zM420 313h1v1h-1zM431 313h1v1h-1zM435 313h2v1h-2zM440 313h1v1h-1zM449 313h1v1h-1zM457 313h1v1h-1zM420 314h1v1h-1zM431 314h1v1h-1zM434 314h1v1h-1zM440 314h1v1h-1zM449 314h1v1h-1zM457 314h1v1h-1zM420 315h1v1h-1zM431 315h3v1h-3zM440 315h1v1h-1zM449 315h1v1h-1zM453 315h9v1h-9zM407 316h9v1h-9zM420 316h1v1h-1zM431 316h1v1h-1zM440 316h1v1h-1zM449 316h1v1h-1zM411 317h1v1h-1zM420 317h1v1h-1zM429 317h3v1h-3zM440 317h1v1h-1zM449 317h1v1h-1zM411 318h1v1h-1zM420 318h1v1h-1zM428 318h1v1h-1zM431 318h1v1h-1zM440 318h1v1h-1zM449 318h1v1h-1zM411 319h1v1h-1zM420 319h1v1h-1zM427 319h1v1h-1zM431 319h1v1h-1zM440 319h1v1h-1zM449 319h1v1h-1zM411 320h1v1h-1zM420 320h1v1h-1zM425 320h2v1h-2zM431 320h1v1h-1zM440 320h1v1h-1zM449 320h1v1h-1zM411 321h1v1h-1zM420 321h1v1h-1zM424 321h1v1h-1zM431 321h1v1h-1zM440 321h1v1h-1zM445 321h9v1h-9zM411 322h1v1h-1zM420 322h1v1h-1zM422 322h2v1h-2zM431 322h1v1h-1zM440 322h1v1h-1zM411 323h1v1h-1zM420 323h2v1h-2zM431 323h1v1h-1zM440 323h1v1h-1zM411 324h1v1h-1zM420 324h1v1h-1zM431 324h1v1h-1zM440 324h1v1h-1zM411 325h1v1h-1zM419 325h2v1h-2zM431 325h1v1h-1zM440 325h1v1h-1zM398 326h9v1h-9zM411 326h1v1h-1zM418 326h1v1h-1zM420 326h1v1h-1zM431 326h1v1h-1zM436 326h9v1h-9zM402 327h1v1h-1zM411 327h1v1h-1zM417 327h1v1h-1zM420 327h1v1h-1zM431 327h1v1h-1zM402 328h1v1h-1zM411 328h1v1h-1zM415 328h2v1h-2zM420 328h1v1h-1zM431 328h1v1h-1zM402 329h1v1h-1zM411 329h1v1h-1zM414 329h1v1h-1zM420 329h1v1h-1zM431 329h1v1h-1zM402 330h1v1h-1zM411 330h1v1h-1zM413 330h1v1h-1zM420 330h1v1h-1zM431 330h1v1h-1zM402 331h1v1h-1zM411 331h2v1h-2zM420 331h1v1h-1zM431 331h1v1h-1zM402 332h1v1h-1zM411 332h1v1h-1zM420 332h1v1h-1zM427 332h9v1h-9zM402 333h1v1h-1zM410 333h2v1h-2zM420 333h1v1h-1zM402 334h1v1h-1zM409 334h1v1h-1zM411 334h1v1h-1zM420 334h1v1h-1zM402 335h1v1h-1zM408 335h1v1h-1zM411 335h1v1h-1zM420 335h1v1h-1zM402 336h1v1h-1zM407 336h1v1h-1zM411 336h1v1h-1zM420 336h1v1h-1zM402 337h1v1h-1zM407 337h1v1h-1zM411 337h1v1h-1zM420 337h1v1h-1zM402 338h1v1h-1zM406 338h1v1h-1zM411 338h1v1h-1zM420 338h1v1h-1zM389 339h9v1h-9zM402 339h1v1h-1zM405 339h1v1h-1zM411 339h1v1h-1zM420 339h1v1h-1zM393 340h1v1h-1zM402 340h1v1h-1zM404 340h1v1h-1zM411 340h1v1h-1zM416 340h9v1h-9zM393 341h1v1h-1zM402 341h2v1h-2zM411 341h1v1h-1zM393 342h1v1h-1zM402 342h1v1h-1zM411 342h1v1h-1zM393 343h1v1h-1zM401 343h2v1h-2zM411 343h1v1h-1zM393 344h1v1h-1zM401 344h2v1h-2zM411 344h1v1h-1zM393 345h1v1h-1zM400 345h1v1h-1zM402 345h1v1h-1zM411 345h1v1h-1zM393 346h1v1h-1zM399 346h1v1h-1zM402 346h1v1h-1zM411 346h1v1h-1zM393 347h1v1h-1zM399 347h1v1h-1zM402 347h1v1h-1zM411 347h1v1h-1zM393 348h1v1h-1zM398 348h1v1h-1zM402 348h1v1h-1zM407 348h9v1h-9zM393 349h1v1h-1zM397 349h1v1h-1zM402 349h1v1h-1zM393 350h1v1h-1zM397 350h1v1h-1zM402 350h1v1h-1zM393 351h1v1h-1zM396 351h1v1h-1zM402 351h1v1h-1zM393 352h1v1h-1zM396 352h1v1h-1zM402 352h1v1h-1zM393 353h1v1h-1zM395 353h1v1h-1zM402 353h1v1h-1zM380 354h9v1h-9zM393 354h2v1h-2zM402 354h1v1h-1zM384 355h1v1h-1zM393 355h2v1h-2zM402 355h1v1h-1zM384 356h1v1h-1zM393 356h1v1h-1zM402 356h1v1h-1zM384 357h1v1h-1zM392 357h2v1h-2zM402 357h1v1h-1zM384 358h1v1h-1zM392 358h2v1h-2zM398 358h9v1h-9zM384 359h1v1h-1zM391 359h1v1h-1zM393 359h1v1h-1zM384 360h1v1h-1zM390 360h1v1h-1zM393 360h1v1h-1zM384 361h1v1h-1zM390 361h1v1h-1zM393 361h1v1h-1zM384 362h1v1h-1zM389 362h1v1h-1zM393 362h1v1h-1zM384 363h1v1h-1zM388 363h1v1h-1zM393 363h1v1h-1zM384 364h1v1h-1zM388 364h1v1h-1zM393 364h1v1h-1zM384 365h1v1h-1zM387 365h1v1h-1zM393 365h1v1h-1zM384 366h1v1h-1zM386 366h1v1h-1zM393 366h1v1h-1zM384 367h1v1h-1zM386 367h1v1h-1zM393 367h1v1h-1zM384 368h2v1h-2zM393 368h1v1h-1zM384 369h1v1h-1zM393 369h1v1h-1zM384 370h1v1h-1zM393 370h1v1h-1zM383 371h2v1h-2zM393 371h1v1h-1zM372 372h9v1h-9zM383 372h2v1h-2zM393 372h1v1h-1zM376 373h1v1h-1zM382 373h1v1h-1zM384 373h1v1h-1zM389 373h9v1h-9zM376 374h1v1h-1zM382 374h1v1h-1zM384 374h1v1h-1zM376 375h1v1h-1zM382 375h1v1h-1zM384 375h1v1h-1zM376 376h1v1h-1zM381 376h1v1h-1zM384 376h1v1h-1zM376 377h1v1h-1zM381 377h1v1h-1zM384 377h1v1h-1zM376 378h1v1h-1zM380 378h1v1h-1zM384 378h1v1h-1zM376 379h1v1h-1zM380 379h1v1h-1zM384 379h1v1h-1zM376 380h1v1h-1zM379 380h1v1h-1zM384 380h1v1h-1zM376 381h1v1h-1zM379 381h1v1h-1zM384 381h1v1h-1zM376 382h1v1h-1zM379 382h1v1h-1zM384 382h1v1h-1zM376 383h1v1h-1zM378 383h1v1h-1zM384 383h1v1h-1zM376 384h1v1h-1zM378 384h1v1h-1zM384 384h1v1h-1zM376 385h2v1h-2zM380 385h9v1h-9zM376 386h2v1h-2zM376 387h1v1h-1zM376 388h1v1h-1zM376 389h1v1h-1zM376 390h1v1h-1zM375 391h2v1h-2zM375 392h2v1h-2zM375 393h2v1h-2zM375 394h2v1h-2zM374 395h1v1h-1zM376 395h1v1h-1zM374 396h1v1h-1zM376 396h1v1h-1zM374 397h1v1h-1zM376 397h1v1h-1zM374 398h1v1h-1zM376 398h1v1h-1zM374 399h1v1h-1zM376 399h1v1h-1zM373 400h1v1h-1zM376 400h1v1h-1zM373 401h1v1h-1zM376 401h1v1h-1zM366 402h9v1h-9zM376 402h1v1h-1zM370 403h1v1h-1zM373 403h1v1h-1zM376 403h1v1h-1zM370 404h1v1h-1zM372 404h9v1h-9zM370 405h1v1h-1zM372 405h1v1h-1zM370 406h1v1h-1zM372 406h1v1h-1zM370 407h1v1h-1zM372 407h1v1h-1zM370 408h1v1h-1zM372 408h1v1h-1zM370 409h2v1h-2zM370 410h2v1h-2zM370 411h2v1h-2zM370 412h2v1h-2zM370 413h1v1h-1zM370 414h1v1h-1zM370 415h1v1h-1zM370 416h1v1h-1zM370 417h1v1h-1zM370 418h1v1h-1zM370 419h1v1h-1zM370 420h1v1h-1zM370 421h1v1h-1zM370 422h1v1h-1zM370 423h1v1h-1zM370 424h1v1h-1zM370 425h1v1h-1zM370 426h1v1h-1zM370 427h1v1h-1zM370 428h1v1h-1zM366 429h9v1h-9z" fill="#d95319" shape-rendering="crispEdges"/>
<path d="M291 90h1v1h-1zM288 91h1v1h-1zM291 91h1v1h-1zM294 91h1v1h-1zM289 92h1v1h-1zM291 92h1v1h-1zM293 92h1v1h-1zM278 93h1v1h-1zM290 93h3v1h-3zM275 94h1v1h-1zM278 94h1v1h-1zM281 94h1v1h-1zM287 94h9v1h-9zM266 95h1v1h-1zM276 95h1v1h-1zM278 95h1v1h-1zM280 95h1v1h-1zM290 95h3v1h-3zM253 96h1v1h-1zM263 96h1v1h-1zM266 96h1v1h-1zM269 96h1v1h-1zM277 96h3v1h-3zM289 96h1v1h-1zM291 96h1v1h-1zM293 96h1v1h-1zM250 97h1v1h-1zM253 97h1v1h-1zM256 97h1v1h-1zM264 97h1v1h-1zM266 97h1v1h-1zM268 97h1v1h-1zM274 97h9v1h-9zM288 97h1v1h-1zM291 97h1v1h-1zM294 97h1v1h-1zM241 98h1v1h-1zM251 98h1v1h-1zM253 98h1v1h-1zM255 98h1v1h-1zM265 98h3v1h-3zM277 98h3v1h-3zM291 98h1v1h-1zM238 99h1v1h-1zM241 99h1v1h-1zM244 99h1v1h-1zM252 99h3v1h-3zM262 99h9v1h-9zM276 99h1v1h-1zM278 99h1v1h-1zM280 99h1v1h-1zM239 100h1v1h-1zM241 100h1v1h-1zM243 100h1v1h-1zM249 100h9v1h-9zM265 100h3v1h-3zM275 100h1v1h-1zM278 100h1v1h-1zM281 100h1v1h-1zM229 101h1v1h-1zM240 101h3v1h-3zM252 101h3v1h-3zM264 101h1v1h-1zM266 101h1v1h-1zM268 101h1v1h-1zM278 101h1v1h-1zM226 102h1v1h-1zM229 102h1v1h-1zM232 102h1v1h-1zM237 102h9v1h-9zM251 102h1v1h-1zM253 102h1v1h-1zM255 102h1v1h-1zM263 102h1v1h-1zM266 102h1v1h-1zM269 102h1v1h-1zM227 103h1v1h-1zM229 103h1v1h-1zM231 103h1v1h-1zM240 103h3v1h-3zM250 103h1v1h-1zM253 103h1v1h-1zM256 103h1v1h-1zM266 103h1v1h-1zM228 104h3v1h-3zM239 104h1v1h-1zM241 104h1v1h-1zM243 104h1v1h-1zM253 104h1v1h-1zM225 105h9v1h-9zM238 105h1v1h-1zM241 105h1v1h-1zM244 105h1v1h-1zM216 106h1v1h-1zM228 106h3v1h-3zM241 106h1v1h-1zM213 107h1v1h-1zM216 107h1v1h-1zM219 107h1v1h-1zM227 107h1v1h-1zM229 107h1v1h-1zM231 107h1v1h-1zM214 108h1v1h-1zM216 108h1v1h-1zM218 108h1v1h-1zM226 108h1v1h-1zM229 108h1v1h-1zM232 108h1v1h-1zM215 109h3v1h-3zM229 109h1v1h-1zM204 110h1v1h-1zM212 110h9v1h-9zM201 111h1v1h-1zM204 111h1v1h-1zM207 111h1v1h-1zM215 111h3v1h-3zM202 112h1v1h-1zM204 112h1v1h-1zM206 112h1v1h-1zM214 112h1v1h-1zM216 112h1v1h-1zM218 112h1v1h-1zM203 113h3v1h-3zM213 113h1v1h-1zM216 113h1v1h-1zM219 113h1v1h-1zM200 114h9v1h-9zM216 114h1v1h-1zM203 115h3v1h-3zM202 116h1v1h-1zM204 116h1v1h-1zM206 116h1v1h-1zM201 117h1v1h-1zM204 117h1v1h-1zM207 117h1v1h-1zM192 118h1v1h-1zM204 118h1v1h-1zM189 119h1v1h-1zM192 119h1v1h-1zM195 119h1v1h-1zM190 120h1v1h-1zM192 120h1v1h-1zM194 120h1v1h-1zM191 121h3v1h-3zM188 122h9v1h-9zM191 123h3v1h-3zM180 124h1v1h-1zM190 124h1v1h-1zM192 124h1v1h-1zM194 124h1v1h-1zM177 125h1v1h-1zM180 125h1v1h-1zM183 125h1v1h-1zM189 125h1v1h-1zM192 125h1v1h-1zM195 125h1v1h-1zM178 126h1v1h-1zM180 126h1v1h-1zM182 126h1v1h-1zM192 126h1v1h-1zM179 127h3v1h-3zM176 128h9v1h-9zM179 129h3v1h-3zM178 130h1v1h-1zM180 130h1v1h-1zM182 130h1v1h-1zM167 131h1v1h-1zM177 131h1v1h-1zM180 131h1v1h-1zM183 131h1v1h-1zM164 132h1v1h-1zM167 132h1v1h-1zM170 132h1v1h-1zM180 132h1v1h-1zM165 133h1v1h-1zM167 133h1v1h-1zM169 133h1v1h-1zM166 134h3v1h-3zM163 135h9v1h-9zM166 136h3v1h-3zM155 137h1v1h-1zM165 137h1v1h-1zM167 137h1v1h-1zM169 137h1v1h-1zM152 138h1v1h-1zM155 138h1v1h-1zM158 138h1v1h-1zM164 138h1v1h-1zM167 138h1v1h-1zM170 138h1v1h-1zM153 139h1v1h-1zM155 139h1v1h-1zM157 139h1v1h-1zM167 139h1v1h-1zM154 140h3v1h-3zM151 141h9v1h-9zM154 142h3v1h-3zM143 143h1v1h-1zM153 143h1v1h-1zM155 143h1v1h-1zM157 143h1v1h-1zM140 144h1v1h-1zM143 144h1v1h-1zM146 144h1v1h-1zM152 144h1v1h-1zM155 144h1v1h-1zM158 144h1v1h-1zM141 145h1v1h-1zM143 145h1v1h-1zM145 145h1v1h-1zM155 145h1v1h-1zM142 146h3v1h-3zM139 147h9v1h-9zM142 148h3v1h-3zM130 149h1v1h-1zM141 149h1v1h-1zM143 149h1v1h-1zM145 149h1v1h-1zM127 150h1v1h-1zM130 150h1v1h-1zM133 150h1v1h-1zM140 150h1v1h-1zM143 150h1v1h-1zM146 150h1v1h-1zM128 151h1v1h-1zM130 151h1v1h-1zM132 151h1v1h-1zM143 151h1v1h-1zM129 152h3v1h-3zM126 153h9v1h-9zM129 154h3v1h-3zM128 155h1v1h-1zM130 155h1v1h-1zM132 155h1v1h-1zM118 156h1v1h-1zM127 156h1v1h-1zM130 156h1v1h-1zM133 156h1v1h-1zM115 157h1v1h-1zM118 157h1v1h-1zM121 157h1v1h-1zM130 157h1v1h-1zM116 158h1v1h-1zM118 158h1v1h-1zM120 158h1v1h-1zM117 159h3v1h-3zM114 160h9v1h-9zM117 161h3v1h-3zM116 162h1v1h-1zM118 162h1v1h-1zM120 162h1v1h-1zM115 163h1v1h-1zM118 163h1v1h-1zM121 163h1v1h-1zM106 164h1v1h-1zM118 164h1v1h-1zM103 165h1v1h-1zM106 165h1v1h-1zM109 165h1v1h-1zM104 166h1v1h-1zM106 166h1v1h-1zM108 166h1v1h-1zM105 167h3v1h-3zM102 168h9v1h-9zM105 169h3v1h-3zM104 170h1v1h-1zM106 170h1v1h-1zM108 170h1v1h-1zM103 171h1v1h-1zM106 171h1v1h-1zM109 171h1v1h-1zM106 172h1v1h-1zM94 174h1v1h-1zM91 175h1v1h-1zM94 175h1v1h-1zM97 175h1v1h-1zM92 176h1v1h-1zM94 176h1v1h-1zM96 176h1v1h-1zM93 177h3v1h-3zM90 178h9v1h-9zM93 179h3v1h-3zM92 180h1v1h-1zM94 180h1v1h-1zM96 180h1v1h-1zM91 181h1v1h-1zM94 181h1v1h-1zM97 181h1v1h-1zM81 182h1v1h-1zM94 182h1v1h-1zM78 183h1v1h-1zM81 183h1v1h-1zM84 183h1v1h-1zM79 184h1v1h-1zM81 184h1v1h-1zM83 184h1v1h-1zM80 185h3v1h-3zM77 186h9v1h-9zM80 187h3v1h-3zM79 188h1v1h-1zM81 188h1v1h-1zM83 188h1v1h-1zM69 189h1v1h-1zM78 189h1v1h-1zM81 189h1v1h-1zM84 189h1v1h-1zM66 190h1v1h-1zM69 190h1v1h-1zM72 190h1v1h-1zM81 190h1v1h-1zM67 191h1v1h-1zM69 191h1v1h-1zM71 191h1v1h-1zM68 192h3v1h-3zM65 193h9v1h-9zM68 194h3v1h-3zM67 195h1v1h-1zM69 195h1v1h-1zM71 195h1v1h-1zM66 196h1v1h-1zM69 196h1v1h-1zM72 196h1v1h-1zM69 197h1v1h-1z" fill="#0000ff" shape-rendering="crispEdges"/>
<path d="M291 348h1v1h-1zM288 349h1v1h-1zM291 349h1v1h-1zM294 349h1v1h-1zM289 350h1v1h-1zM291 350h1v1h-1zM293 350h1v1h-1zM290 351h3v1h-3zM278 352h1v1h-1zM287 352h9v1h-9zM275 353h1v1h-1zM278 353h1v1h-1zM281 353h1v1h-1zM290 353h3v1h-3zM276 354h1v1h-1zM278 354h1v1h-1zM280 354h1v1h-1zM289 354h1v1h-1zM291 354h1v1h-1zM293 354h1v1h-1zM277 355h3v1h-3zM288 355h1v1h-1zM291 355h1v1h-1zM294 355h1v1h-1zM266 356h1v1h-1zM274 356h9v1h-9zM291 356h1v1h-1zM263 357h1v1h-1zM266 357h1v1h-1zM269 357h1v1h-1zM277 357h3v1h-3zM264 358h1v1h-1zM266 358h1v1h-1zM268 358h1v1h-1zM276 358h1v1h-1zM278 358h1v1h-1zM280 358h1v1h-1zM253 359h1v1h-1zM265 359h3v1h-3zM275 359h1v1h-1zM278 359h1v1h-1zM281 359h1v1h-1zM250 360h1v1h-1zM253 360h1v1h-1zM256 360h1v1h-1zM262 360h9v1h-9zM278 360h1v1h-1zM251 361h1v1h-1zM253 361h1v1h-1zM255 361h1v1h-1zM265 361h3v1h-3zM241 362h1v1h-1zM252 362h3v1h-3zM264 362h1v1h-1zM266 362h1v1h-1zM268 362h1v1h-1zM238 363h1v1h-1zM241 363h1v1h-1zM244 363h1v1h-1zM249 363h9v1h-9zM263 363h1v1h-1zM266 363h1v1h-1zM269 363h1v1h-1zM239 364h1v1h-1zM241 364h1v1h-1zM243 364h1v1h-1zM252 364h3v1h-3zM266 364h1v1h-1zM240 365h3v1h-3zM251 365h1v1h-1zM253 365h1v1h-1zM255 365h1v1h-1zM229 366h1v1h-1zM237 366h9v1h-9zM250 366h1v1h-1zM253 366h1v1h-1zM256 366h1v1h-1zM226 367h1v1h-1zM229 367h1v1h-1zM232 367h1v1h-1zM240 367h3v1h-3zM253 367h1v1h-1zM227 368h1v1h-1zM229 368h1v1h-1zM231 368h1v1h-1zM239 368h1v1h-1zM241 368h1v1h-1zM243 368h1v1h-1zM228 369h3v1h-3zM238 369h1v1h-1zM241 369h1v1h-1zM244 369h1v1h-1zM216 370h1v1h-1zM225 370h9v1h-9zM241 370h1v1h-1zM213 371h1v1h-1zM216 371h1v1h-1zM219 371h1v1h-1zM228 371h3v1h-3zM214 372h1v1h-1zM216 372h1v1h-1zM218 372h1v1h-1zM227 372h1v1h-1zM229 372h1v1h-1zM231 372h1v1h-1zM215 373h3v1h-3zM226 373h1v1h-1zM229 373h1v1h-1zM232 373h1v1h-1zM204 374h1v1h-1zM212 374h9v1h-9zM229 374h1v1h-1zM201 375h1v1h-1zM204 375h1v1h-1zM207 375h1v1h-1zM215 375h3v1h-3zM202 376h1v1h-1zM204 376h1v1h-1zM206 376h1v1h-1zM214 376h1v1h-1zM216 376h1v1h-1zM218 376h1v1h-1zM203 377h3v1h-3zM213 377h1v1h-1zM216 377h1v1h-1zM219 377h1v1h-1zM200 378h9v1h-9zM216 378h1v1h-1zM192 379h1v1h-1zM203 379h3v1h-3zM189 380h1v1h-1zM192 380h1v1h-1zM195 380h1v1h-1zM202 380h1v1h-1zM204 380h1v1h-1zM206 380h1v1h-1zM190 381h1v1h-1zM192 381h1v1h-1zM194 381h1v1h-1zM201 381h1v1h-1zM204 381h1v1h-1zM207 381h1v1h-1zM191 382h3v1h-3zM204 382h1v1h-1zM188 383h9v1h-9zM180 384h1v1h-1zM191 384h3v1h-3zM177 385h1v1h-1zM180 385h1v1h-1zM183 385h1v1h-1zM190 385h1v1h-1zM192 385h1v1h-1zM194 385h1v1h-1zM178 386h1v1h-1zM180 386h1v1h-1zM182 386h1v1h-1zM189 386h1v1h-1zM192 386h1v1h-1zM195 386h1v1h-1zM179 387h3v1h-3zM192 387h1v1h-1zM176 388h9v1h-9zM179 389h3v1h-3zM178 390h1v1h-1zM180 390h1v1h-1zM182 390h1v1h-1zM167 391h1v1h-1zM177 391h1v1h-1zM180 391h1v1h-1zM183 391h1v1h-1zM164 392h1v1h-1zM167 392h1v1h-1zM170 392h1v1h-1zM180 392h1v1h-1zM165 393h1v1h-1zM167 393h1v1h-1zM169 393h1v1h-1zM166 394h3v1h-3zM163 395h9v1h-9zM166 396h3v1h-3zM155 397h1v1h-1zM165 397h1v1h-1zM167 397h1v1h-1zM169 397h1v1h-1zM152 398h1v1h-1zM155 398h1v1h-1zM158 398h1v1h-1zM164 398h1v1h-1zM167 398h1v1h-1zM170 398h1v1h-1zM153 399h1v1h-1zM155 399h1v1h-1zM157 399h1v1h-1zM167 399h1v1h-1zM154 400h3v1h-3zM151 401h9v1h-9zM154 402h3v1h-3zM153 403h1v1h-1zM155 403h1v1h-1zM157 403h1v1h-1zM152 404h1v1h-1zM155 404h1v1h-1zM158 404h1v1h-1zM143 405h1v1h-1zM155 405h1v1h-1zM140 406h1v1h-1zM143 406h1v1h-1zM146 406h1v1h-1zM141 407h1v1h-1zM143 407h1v1h-1zM145 407h1v1h-1zM142 408h3v1h-3zM139 409h9v1h-9zM142 410h3v1h-3zM130 411h1v1h-1zM141 411h1v1h-1zM143 411h1v1h-1zM145 411h1v1h-1zM127 412h1v1h-1zM130 412h1v1h-1zM133 412h1v1h-1zM140 412h1v1h-1zM143 412h1v1h-1zM146 412h1v1h-1zM128 413h1v1h-1zM130 413h1v1h-1zM132 413h1v1h-1zM143 413h1v1h-1zM129 414h3v1h-3zM126 415h9v1h-9zM129 416h3v1h-3zM128 417h1v1h-1zM130 417h1v1h-1zM132 417h1v1h-1zM118 418h1v1h-1zM127 418h1v1h-1zM130 418h1v1h-1zM133 418h1v1h-1zM115 419h1v1h-1zM118 419h1v1h-1zM121 419h1v1h-1zM130 419h1v1h-1zM116 420h1v1h-1zM118 420h1v1h-1zM120 420h1v1h-1zM117 421h3v1h-3zM114 422h9v1h-9zM117 423h3v1h-3zM106 424h1v1h-1zM116 424h1v1h-1zM118 424h1v1h-1zM120 424h1v1h-1zM103 425h1v1h-1zM106 425h1v1h-1zM109 425h1v1h-1zM115 425h1v1h-1zM118 425h1v1h-1zM121 425h1v1h-1zM104 426h1v1h-1zM106 426h1v1h-1zM108 426h1v1h-1zM118 426h1v1h-1zM105 427h3v1h-3zM102 428h9v1h-9zM105 429h3v1h-3zM94 430h1v1h-1zM104 430h1v1h-1zM106 430h1v1h-1zM108 430h1v1h-1zM91 431h1v1h-1zM94 431h1v1h-1zM97 431h1v1h-1zM103 431h1v1h-1zM106 431h1v1h-1zM109 431h1v1h-1zM92 432h1v1h-1zM94 432h1v1h-1zM96 432h1v1h-1zM106 432h1v1h-1zM93 433h3v1h-3zM90 434h9v1h-9zM93 435h3v1h-3zM81 436h1v1h-1zM92 436h1v1h-1zM94 436h1v1h-1zM96 436h1v1h-1zM78 437h1v1h-1zM81 437h1v1h-1zM84 437h1v1h-1zM91 437h1v1h-1zM94 437h1v1h-1zM97 437h1v1h-1zM79 438h1v1h-1zM81 438h1v1h-1zM83 438h1v1h-1zM94 438h1v1h-1zM80 439h3v1h-3zM77 440h9v1h-9zM69 441h1v1h-1zM80 441h3v1h-3zM66 442h1v1h-1zM69 442h1v1h-1zM72 442h1v1h-1zM79 442h1v1h-1zM81 442h1v1h-1zM83 442h1v1h-1zM67 443h1v1h-1zM69 443h1v1h-1zM71 443h1v1h-1zM78 443h1v1h-1zM81 443h1v1h-1zM84 443h1v1h-1zM68 444h3v1h-3zM81 444h1v1h-1zM65 445h9v1h-9zM68 446h3v1h-3zM67 447h1v1h-1zM69 447h1v1h-1zM71 447h1v1h-1zM66 448h1v1h-1zM69 448h1v1h-1zM72 448h1v1h-1zM69 449h1v1h-1z" fill="#0000ff" shape-rendering="crispEdges"/>
<rect x="177.5" y="160.5" width="107" height="34" fill="#fff" stroke="#262626" stroke-width="1" shape-rendering="crispEdges"/>
<g shape-rendering="crispEdges" stroke-width="1">
<line x1="181.0" y1="169.5" x2="221.0" y2="169.5" stroke="#0000ff"/>
<line x1="181.0" y1="184.5" x2="221.0" y2="184.5" stroke="#ff0000"/>
</g>
<path d="M201 165h1v1h-1zM198 166h1v1h-1zM201 166h1v1h-1zM204 166h1v1h-1zM199 167h1v1h-1zM201 167h1v1h-1zM203 167h1v1h-1zM200 168h3v1h-3zM197 169h9v1h-9zM200 170h3v1h-3zM199 171h1v1h-1zM201 171h1v1h-1zM203 171h1v1h-1zM198 172h1v1h-1zM201 172h1v1h-1zM204 172h1v1h-1zM201 173h1v1h-1z" fill="#0000ff" shape-rendering="crispEdges"/>
<text class="lg" style="letter-spacing:0.07px" transform="translate(223.85 173.85) scale(1 1.05)">Original</text>
<text class="lg" style="letter-spacing:0.07px" transform="translate(223.85 190.1) scale(1 1.05)">Surrogates</text>
<rect x="179.5" y="406.5" width="107" height="34" fill="#fff" stroke="#262626" stroke-width="1" shape-rendering="crispEdges"/>
<g shape-rendering="crispEdges" stroke-width="1">
<line x1="183.0" y1="416.5" x2="223.0" y2="416.5" stroke="#0000ff"/>
<line x1="183.0" y1="431.5" x2="223.0" y2="431.5" stroke="#ff0000"/>
</g>
<path d="M203 412h1v1h-1zM200 413h1v1h-1zM203 413h1v1h-1zM206 413h1v1h-1zM201 414h1v1h-1zM203 414h1v1h-1zM205 414h1v1h-1zM202 415h3v1h-3zM199 416h9v1h-9zM202 417h3v1h-3zM201 418h1v1h-1zM203 418h1v1h-1zM205 418h1v1h-1zM200 419h1v1h-1zM203 419h1v1h-1zM206 419h1v1h-1zM203 420h1v1h-1z" fill="#0000ff" shape-rendering="crispEdges"/>
<text class="lg" style="letter-spacing:0.07px" transform="translate(225.85 420.75) scale(1 1.05)">Original</text>
<text class="lg" style="letter-spacing:0.07px" transform="translate(225.85 437.0) scale(1 1.05)">Surrogates</text>
<path fill="#262626" d="M56.00 217.65V208.70h-0.95C54.50 209.90 53.10 210.90 52.30 211.30v1.15C53.20 212.05 54.10 211.45 54.80 210.70V217.65z"/>
<rect x="47.40" y="214.10" width="3.5" height="1.15" fill="#262626"/>
<text class="tk" text-anchor="middle" transform="translate(111.65 217.65) scale(1 1.02)">0</text>
<path fill="#262626" d="M173.45 217.65V208.70h-0.95C171.95 209.90 170.55 210.90 169.75 211.30v1.15C170.65 212.05 171.55 211.45 172.25 210.70V217.65z"/>
<text class="tk" text-anchor="middle" transform="translate(231.75 217.65) scale(1 1.02)">2</text>
<text class="tk" text-anchor="middle" transform="translate(290.65 217.65) scale(1 1.02)">3</text>
<text class="tk" text-anchor="end" transform="translate(47.40 205.00) scale(1 1.02)">0</text>
<text class="tk" text-anchor="end" transform="translate(48.40 172.00) scale(1 1.02)">0.2</text>
<text class="tk" text-anchor="end" transform="translate(48.40 138.00) scale(1 1.02)">0.4</text>
<text class="tk" text-anchor="end" transform="translate(48.40 104.00) scale(1 1.02)">0.6</text>
<text class="tk" text-anchor="end" transform="translate(48.40 70.00) scale(1 1.02)">0.8</text>
<path fill="#262626" d="M45.00 35.70V26.75h-0.95C43.50 27.95 42.10 28.95 41.30 29.35v1.15C42.20 30.10 43.10 29.50 43.80 28.75V35.70z"/>
<path fill="#262626" d="M56.00 465.65V456.70h-0.95C54.50 457.90 53.10 458.90 52.30 459.30v1.15C53.20 460.05 54.10 459.45 54.80 458.70V465.65z"/>
<rect x="47.40" y="462.10" width="3.5" height="1.15" fill="#262626"/>
<text class="tk" text-anchor="middle" transform="translate(111.65 465.65) scale(1 1.02)">0</text>
<path fill="#262626" d="M173.45 465.65V456.70h-0.95C171.95 457.90 170.55 458.90 169.75 459.30v1.15C170.65 460.05 171.55 459.45 172.25 458.70V465.65z"/>
<text class="tk" text-anchor="middle" transform="translate(231.75 465.65) scale(1 1.02)">2</text>
<text class="tk" text-anchor="middle" transform="translate(290.65 465.65) scale(1 1.02)">3</text>
<text class="tk" text-anchor="end" transform="translate(47.40 452.90) scale(1 1.02)">0</text>
<text class="tk" text-anchor="end" transform="translate(48.40 420.00) scale(1 1.02)">0.2</text>
<text class="tk" text-anchor="end" transform="translate(48.40 386.00) scale(1 1.02)">0.4</text>
<text class="tk" text-anchor="end" transform="translate(48.40 352.00) scale(1 1.02)">0.6</text>
<text class="tk" text-anchor="end" transform="translate(48.40 318.00) scale(1 1.02)">0.8</text>
<path fill="#262626" d="M45.00 283.70V274.75h-0.95C43.50 275.95 42.10 276.95 41.30 277.35v1.15C42.20 278.10 43.10 277.50 43.80 276.75V283.70z"/>
<text class="tk" text-anchor="middle" transform="translate(365.65 217.65) scale(1 1.02)">0</text>
<text class="tk" text-anchor="middle" transform="translate(414.15 217.65) scale(1 1.02)">0.2</text>
<text class="tk" text-anchor="middle" transform="translate(461.15 217.65) scale(1 1.02)">0.4</text>
<text class="tk" text-anchor="middle" transform="translate(509.05 217.65) scale(1 1.02)">0.6</text>
<text class="tk" text-anchor="middle" transform="translate(555.85 217.65) scale(1 1.02)">0.8</text>
<path fill="#262626" d="M604.45 217.65V208.70h-0.95C602.95 209.90 601.55 210.90 600.75 211.30v1.15C601.65 212.05 602.55 211.45 603.25 210.70V217.65z"/>
<text class="tk" text-anchor="end" transform="translate(360.40 205.00) scale(1 1.02)">0</text>
<text class="tk" text-anchor="end" transform="translate(361.40 172.00) scale(1 1.02)">0.2</text>
<text class="tk" text-anchor="end" transform="translate(361.40 138.00) scale(1 1.02)">0.4</text>
<text class="tk" text-anchor="end" transform="translate(361.40 104.00) scale(1 1.02)">0.6</text>
<text class="tk" text-anchor="end" transform="translate(361.40 70.00) scale(1 1.02)">0.8</text>
<path fill="#262626" d="M358.00 35.70V26.75h-0.95C356.50 27.95 355.10 28.95 354.30 29.35v1.15C355.20 30.10 356.10 29.50 356.80 28.75V35.70z"/>
<text class="tk" text-anchor="middle" transform="translate(365.65 465.65) scale(1 1.02)">0</text>
<text class="tk" text-anchor="middle" transform="translate(414.15 465.65) scale(1 1.02)">0.2</text>
<text class="tk" text-anchor="middle" transform="translate(461.15 465.65) scale(1 1.02)">0.4</text>
<text class="tk" text-anchor="middle" transform="translate(509.05 465.65) scale(1 1.02)">0.6</text>
<text class="tk" text-anchor="middle" transform="translate(555.85 465.65) scale(1 1.02)">0.8</text>
<path fill="#262626" d="M604.45 465.65V456.70h-0.95C602.95 457.90 601.55 458.90 600.75 459.30v1.15C601.65 460.05 602.55 459.45 603.25 458.70V465.65z"/>
<text class="tk" text-anchor="end" transform="translate(360.40 452.90) scale(1 1.02)">0</text>
<text class="tk" text-anchor="end" transform="translate(361.40 420.00) scale(1 1.02)">0.2</text>
<text class="tk" text-anchor="end" transform="translate(361.40 386.00) scale(1 1.02)">0.4</text>
<text class="tk" text-anchor="end" transform="translate(361.40 352.00) scale(1 1.02)">0.6</text>
<text class="tk" text-anchor="end" transform="translate(361.40 318.00) scale(1 1.02)">0.8</text>
<path fill="#262626" d="M358.00 283.70V274.75h-0.95C356.50 275.95 355.10 276.95 354.30 277.35v1.15C355.20 278.10 356.10 277.50 356.80 276.75V283.70z"/>
<g transform="translate(52.25 17.05)"><text class="lb tt" style="letter-spacing:0.0px" transform="scale(1 1.03)">DVV Plot (October 2011 for D</text><text class="lb tt" style="font-size:13.1px" transform="translate(220.49 7.8) scale(1 0.94)">st</text><text class="lb tt" transform="translate(233.04 0) scale(1 1.03)">)</text></g>
<g transform="translate(336.0 17.05)"><text class="lb tt" style="letter-spacing:0.025px" transform="scale(1 1.03)">DVV Scatter Plot (October 2011 for D</text><text class="lb tt" style="font-size:13.1px" transform="translate(279.79 7.8) scale(1 0.94)">st</text><text class="lb tt" transform="translate(292.34 0) scale(1 1.03)">)</text></g>
<g transform="translate(43.75 265.05)"><text class="lb tt" style="letter-spacing:0.015px" transform="scale(1 1.03)">DVV Plot (December 2015 for D</text><text class="lb tt" style="font-size:13.1px" transform="translate(236.96 7.8) scale(1 0.94)">st</text><text class="lb tt" transform="translate(249.51 0) scale(1 1.03)">)</text></g>
<g transform="translate(328.35 265.05)"><text class="lb tt" style="letter-spacing:0.0px" transform="scale(1 1.03)">DVV Scatter Plot (December 2015 for D</text><text class="lb tt" style="font-size:13.1px" transform="translate(295.22 7.8) scale(1 0.94)">st</text><text class="lb tt" transform="translate(307.77 0) scale(1 1.03)">)</text></g>
<text class="lb" x="172" y="239.4" text-anchor="middle">std. distance</text>
<text class="lb" x="172" y="487.4" text-anchor="middle">std. distance</text>
<g transform="translate(433.4 243.2) rotate(0)"><text class="lb" style="letter-spacing:-0.07px">Original</text><text class="lb" x="63.90">(</text><text font-size="16px" font-style="italic" transform="translate(69.87 0.38) scale(0.958 0.773)">σ</text><text class="lb" style="font-size:14px" x="80.30" y="-7.3">*</text><text class="lb" style="font-size:13.6px" x="85.40" y="-8.4">2</text><text class="lb" x="93.80">)</text></g>
<g transform="translate(433.4 491.1) rotate(0)"><text class="lb" style="letter-spacing:-0.07px">Original</text><text class="lb" x="63.90">(</text><text font-size="16px" font-style="italic" transform="translate(69.87 0.38) scale(0.958 0.773)">σ</text><text class="lb" style="font-size:14px" x="80.30" y="-7.3">*</text><text class="lb" style="font-size:13.6px" x="85.40" y="-8.4">2</text><text class="lb" x="93.80">)</text></g>
<g transform="translate(23.0 170.0) rotate(-90)"><text class="lb" style="letter-spacing:-0.2px">variance</text><text class="lb" x="69.18">(</text><text font-size="16px" font-style="italic" transform="translate(75.15 0.38) scale(0.958 0.773)">σ</text><text class="lb" style="font-size:14px" x="85.58" y="-7.3">*</text><text class="lb" style="font-size:13.6px" x="90.68" y="-8.4">2</text><text class="lb" x="99.08">)</text></g>
<g transform="translate(23.0 417.8) rotate(-90)"><text class="lb" style="letter-spacing:-0.2px">variance</text><text class="lb" x="69.18">(</text><text font-size="16px" font-style="italic" transform="translate(75.15 0.38) scale(0.958 0.773)">σ</text><text class="lb" style="font-size:14px" x="85.58" y="-7.3">*</text><text class="lb" style="font-size:13.6px" x="90.68" y="-8.4">2</text><text class="lb" x="99.08">)</text></g>
<g transform="translate(336.4 180.1) rotate(-90)"><text class="lb" style="letter-spacing:0px">Surrogates</text><text class="lb" x="89.21">(</text><text font-size="16px" font-style="italic" transform="translate(95.18 0.38) scale(0.958 0.773)">σ</text><text class="lb" style="font-size:14px" x="105.61" y="-7.3">*</text><text class="lb" style="font-size:13.6px" x="110.71" y="-8.4">2</text><text class="lb" x="119.11">)</text></g>
<g transform="translate(336.4 427.8) rotate(-90)"><text class="lb" style="letter-spacing:0px">Surrogates</text><text class="lb" x="89.21">(</text><text font-size="16px" font-style="italic" transform="translate(95.18 0.38) scale(0.958 0.773)">σ</text><text class="lb" style="font-size:14px" x="105.61" y="-7.3">*</text><text class="lb" style="font-size:13.6px" x="110.71" y="-8.4">2</text><text class="lb" x="119.11">)</text></g>
</svg></body></html>
